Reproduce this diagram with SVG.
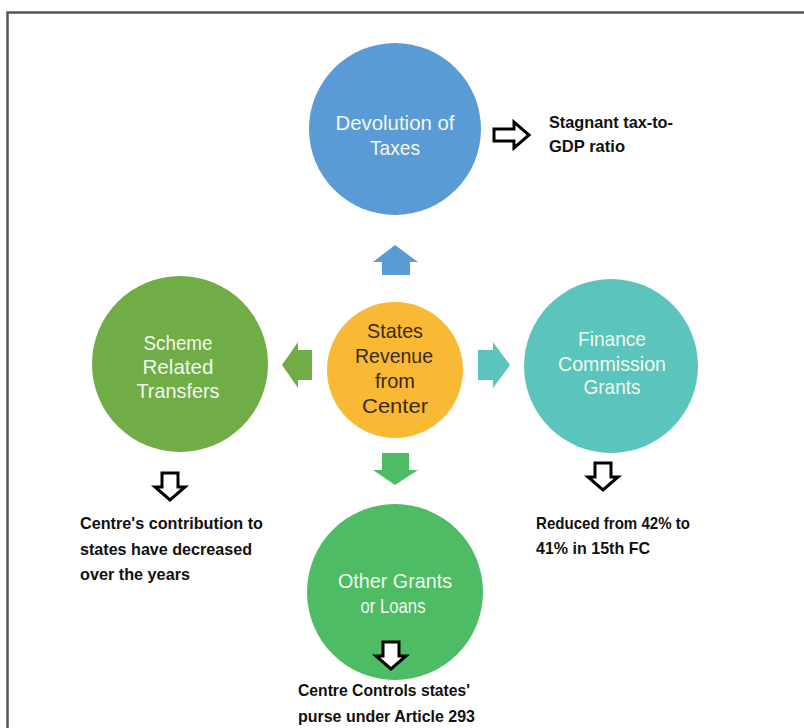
<svg xmlns="http://www.w3.org/2000/svg" width="804" height="728" viewBox="0 0 804 728">
<defs>
<style>
.ct{font-family:"Liberation Sans",Arial,sans-serif;font-size:21px;fill:#f2f8ef;text-anchor:middle}
.cc{font-family:"Liberation Sans",Arial,sans-serif;font-size:21px;fill:#3a2a0c;text-anchor:middle}
.bt{font-family:"Liberation Sans",Arial,sans-serif;font-size:17px;font-weight:bold;fill:#111}
.oa{fill:#fff;stroke:#000;stroke-width:3;stroke-linejoin:miter}
</style>
<path id="downOutline" d="M-8,0 H8 V14 H15 L0,27 L-15,14 H-8 Z"/>
</defs>
<rect x="0" y="0" width="804" height="728" fill="#fff"/>
<path d="M7.5,728 V12.5 H804" fill="none" stroke="#555" stroke-width="2.5"/>

<g id="devolution">
<circle cx="395" cy="129" r="86" fill="#5B9BD5"/>
<text class="ct" x="395" y="130" textLength="119" lengthAdjust="spacingAndGlyphs">Devolution of</text>
<text class="ct" x="395" y="155" textLength="50" lengthAdjust="spacingAndGlyphs">Taxes</text>
</g>
<g id="scheme">
<circle cx="180" cy="364" r="88" fill="#70AD47"/>
<text class="ct" x="178" y="350" textLength="69" lengthAdjust="spacingAndGlyphs">Scheme</text>
<text class="ct" x="178" y="374" textLength="71" lengthAdjust="spacingAndGlyphs">Related</text>
<text class="ct" x="178" y="398" textLength="83" lengthAdjust="spacingAndGlyphs">Transfers</text>
</g>
<g id="center">
<circle cx="395" cy="370" r="68" fill="#F9B934"/>
<text class="cc" x="395" y="338" textLength="56" lengthAdjust="spacingAndGlyphs">States</text>
<text class="cc" x="394" y="363" textLength="78" lengthAdjust="spacingAndGlyphs">Revenue</text>
<text class="cc" x="395" y="388" textLength="40" lengthAdjust="spacingAndGlyphs">from</text>
<text class="cc" x="395" y="413" textLength="66" lengthAdjust="spacingAndGlyphs">Center</text>
</g>
<g id="finance">
<circle cx="611" cy="366" r="87" fill="#5BC4BC"/>
<text class="ct" x="612" y="346" textLength="68" lengthAdjust="spacingAndGlyphs">Finance</text>
<text class="ct" x="612" y="371" textLength="108" lengthAdjust="spacingAndGlyphs">Commission</text>
<text class="ct" x="612" y="394" textLength="57" lengthAdjust="spacingAndGlyphs">Grants</text>
</g>
<g id="other">
<circle cx="395" cy="592" r="88" fill="#4DBC64"/>
<text class="ct" x="395" y="588" textLength="114" lengthAdjust="spacingAndGlyphs">Other Grants</text>
<text class="ct" x="393" y="613" textLength="65" lengthAdjust="spacingAndGlyphs">or Loans</text>
</g>

<g id="connectors">
<path d="M382,275 V262 H373 L395,245 L418,262 H410 V275 Z" fill="#5B9BD5"/>
<path d="M382,453 V470 H373 L395,485 L418,470 H409 V453 Z" fill="#4DBC64"/>
<path d="M312,350 H298 V342 L282,365 L298,388 V380 H312 Z" fill="#70AD47"/>
<path d="M478,350 H493 V342 L510,365 L493,388 V380 H478 Z" fill="#5BC4BC"/>
<path class="oa" d="M494,129 H514 V122 L529,135 L514,148 V141 H494 Z"/>
<use href="#downOutline" class="oa" x="170" y="473"/>
<use href="#downOutline" class="oa" x="603" y="463"/>
<use href="#downOutline" class="oa" x="391" y="642"/>
</g>

<g id="notes">
<text class="bt" x="549" y="128" textLength="124" lengthAdjust="spacingAndGlyphs">Stagnant tax-to-</text>
<text class="bt" x="549" y="152" textLength="76" lengthAdjust="spacingAndGlyphs">GDP ratio</text>
<text class="bt" x="80" y="529" textLength="183" lengthAdjust="spacingAndGlyphs">Centre's contribution to</text>
<text class="bt" x="80" y="555" textLength="172" lengthAdjust="spacingAndGlyphs">states have decreased</text>
<text class="bt" x="80" y="580" textLength="110" lengthAdjust="spacingAndGlyphs">over the years</text>
<text class="bt" x="536" y="529" textLength="154" lengthAdjust="spacingAndGlyphs">Reduced from 42% to</text>
<text class="bt" x="536" y="554" textLength="114" lengthAdjust="spacingAndGlyphs">41% in 15th FC</text>
<text class="bt" x="298" y="696" textLength="172" lengthAdjust="spacingAndGlyphs">Centre Controls states'</text>
<text class="bt" x="298" y="722" textLength="177" lengthAdjust="spacingAndGlyphs">purse under Article 293</text>
</g>
</svg>
